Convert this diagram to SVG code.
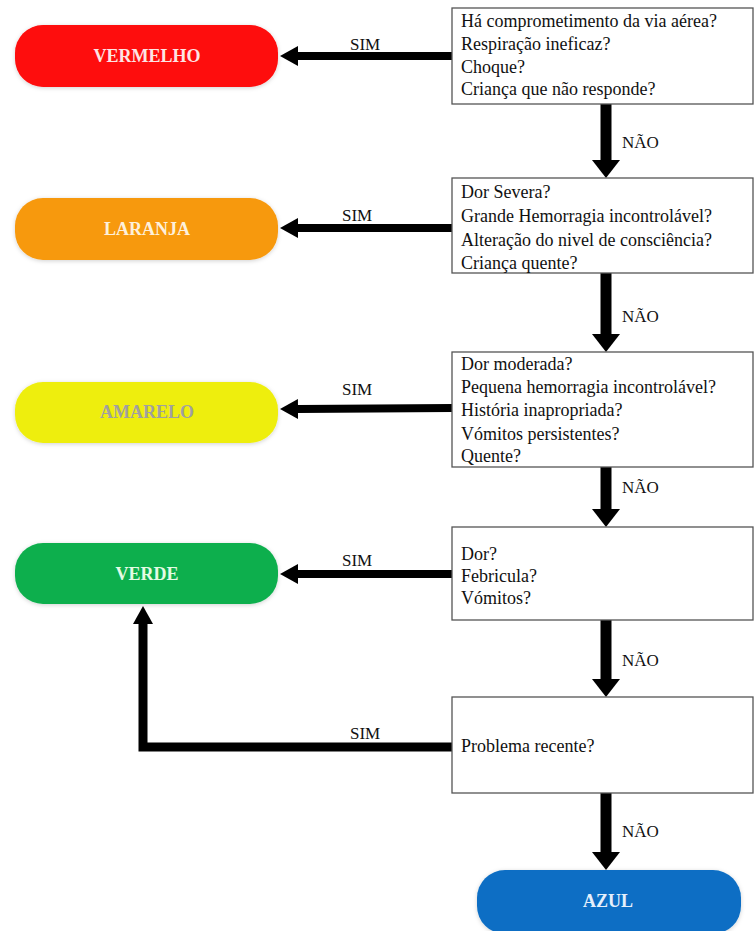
<svg xmlns="http://www.w3.org/2000/svg" width="754" height="931" viewBox="0 0 754 931">
<defs>
<style>
.box{fill:#fff;stroke:#555;stroke-width:1.3}
.q{font-size:18px;fill:#111}
.lbl{font-size:17px;fill:#111}
.pl{font-size:18px;font-weight:bold;text-anchor:middle}
.h{stroke:#000;stroke-width:8;fill:none}
.v{stroke:#000;stroke-width:11;fill:none}
</style>
<marker id="ah" markerUnits="userSpaceOnUse" markerWidth="18" markerHeight="20" viewBox="0 0 18 20" refX="0" refY="10" orient="auto"><path d="M0,0 L18,10 L0,20 z" fill="#000"/></marker>
<marker id="av" markerUnits="userSpaceOnUse" markerWidth="18" markerHeight="28" viewBox="0 0 18 28" refX="0" refY="14" orient="auto"><path d="M0,0 L18,14 L0,28 z" fill="#000"/></marker>
<filter id="sh" x="-10%" y="-20%" width="120%" height="140%"><feDropShadow dx="0" dy="1" stdDeviation="2" flood-color="#000" flood-opacity="0.18"/></filter>
</defs>
<rect width="754" height="931" fill="#fff"/>
<g font-family="Liberation Serif, Tinos, DejaVu Serif, Times New Roman, serif">
<g id="connectors">
<line class="h" x1="452" y1="56" x2="298" y2="56" marker-end="url(#ah)"/>
<line class="h" x1="452" y1="228" x2="298" y2="228" marker-end="url(#ah)"/>
<line class="h" x1="452" y1="408" x2="298" y2="409" marker-end="url(#ah)"/>
<line class="h" x1="452" y1="574" x2="298" y2="574" marker-end="url(#ah)"/>
<path d="M452,747 H143 V624" stroke="#000" stroke-width="9" fill="none" stroke-linejoin="miter" marker-end="url(#ah)"/>
<line class="v" x1="606" y1="104" x2="606" y2="160" marker-end="url(#av)"/>
<line class="v" x1="606" y1="273" x2="606" y2="334" marker-end="url(#av)"/>
<line class="v" x1="606" y1="467" x2="606" y2="509" marker-end="url(#av)"/>
<line class="v" x1="606" y1="620" x2="606" y2="679" marker-end="url(#av)"/>
<line class="v" x1="606" y1="793" x2="606" y2="852" marker-end="url(#av)"/>
<text class="lbl" x="350" y="50">SIM</text>
<text class="lbl" x="342" y="221">SIM</text>
<text class="lbl" x="342" y="395">SIM</text>
<text class="lbl" x="342" y="566">SIM</text>
<text class="lbl" x="350" y="739">SIM</text>
<text class="lbl" x="622" y="148">NÃO</text>
<text class="lbl" x="622" y="322">NÃO</text>
<text class="lbl" x="622" y="493">NÃO</text>
<text class="lbl" x="622" y="666">NÃO</text>
<text class="lbl" x="622" y="837">NÃO</text>
</g>

<g id="q1">
<rect class="box" x="452" y="8" width="301" height="96"/>
<text class="q" x="461" y="27">Há comprometimento da via aérea?</text>
<text class="q" x="461" y="50">Respiração ineficaz?</text>
<text class="q" x="461" y="73">Choque?</text>
<text class="q" x="461" y="95">Criança que não responde?</text>
</g>
<g id="q2">
<rect class="box" x="452" y="178" width="301" height="95"/>
<text class="q" x="461" y="198">Dor Severa?</text>
<text class="q" x="461" y="222">Grande Hemorragia incontrolável?</text>
<text class="q" x="461" y="246">Alteração do nivel de consciência?</text>
<text class="q" x="461" y="269">Criança quente?</text>
</g>
<g id="q3">
<rect class="box" x="452" y="352" width="301" height="115"/>
<text class="q" x="461" y="370">Dor moderada?</text>
<text class="q" x="461" y="393">Pequena hemorragia incontrolável?</text>
<text class="q" x="461" y="416">História inapropriada?</text>
<text class="q" x="461" y="440">Vómitos persistentes?</text>
<text class="q" x="461" y="462">Quente?</text>
</g>
<g id="q4">
<rect class="box" x="452" y="527" width="301" height="93"/>
<text class="q" x="461" y="560">Dor?</text>
<text class="q" x="461" y="582">Febricula?</text>
<text class="q" x="461" y="604">Vómitos?</text>
</g>
<g id="q5">
<rect class="box" x="452" y="697" width="301" height="96"/>
<text class="q" x="461" y="752">Problema recente?</text>
</g>

<g id="vermelho">
<rect x="15" y="25" width="263" height="62" rx="28" fill="#fe0808" filter="url(#sh)"/>
<text class="pl" x="147" y="62" fill="#fde4e4">VERMELHO</text>
</g>
<g id="laranja">
<rect x="15" y="198" width="263" height="62" rx="28" fill="#f7990f" filter="url(#sh)"/>
<text class="pl" x="147" y="235" fill="#fdf0dc">LARANJA</text>
</g>
<g id="amarelo">
<rect x="15" y="382" width="263" height="61" rx="28" fill="#eeee0a" filter="url(#sh)"/>
<text class="pl" x="147" y="418" fill="#a0a0a0">AMARELO</text>
</g>
<g id="verde">
<rect x="15" y="543" width="263" height="61" rx="28" fill="#0baf4d" filter="url(#sh)"/>
<text class="pl" x="147" y="580" fill="#e4fbe4">VERDE</text>
</g>
<g id="azul">
<rect x="477" y="870" width="264" height="64" rx="28" fill="#0a6ec4" filter="url(#sh)"/>
<text class="pl" x="608" y="907" fill="#e6f0fc">AZUL</text>
</g>
</g>
</svg>
